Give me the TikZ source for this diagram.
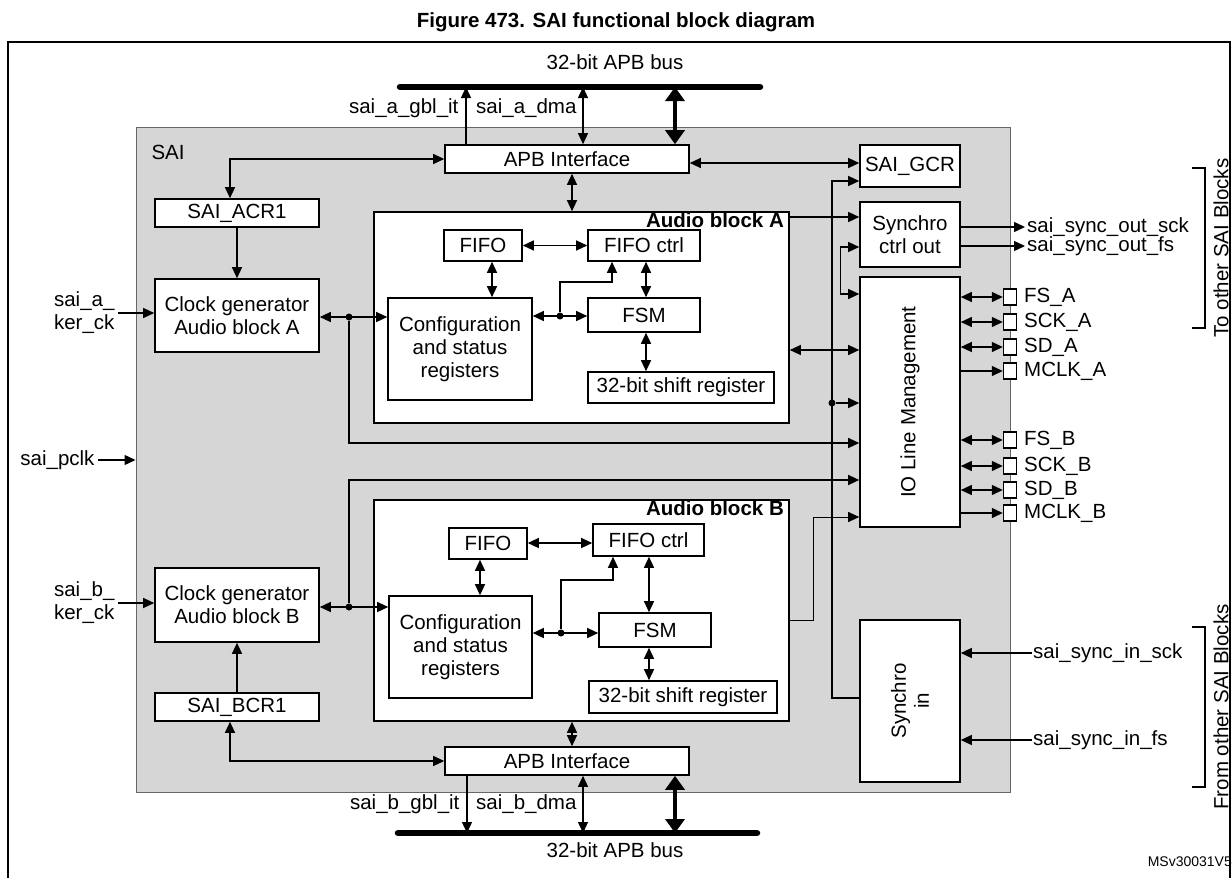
\documentclass[tikz,border=0pt]{standalone}
\usepackage{fontspec}
\setmainfont{Liberation Sans}
\usetikzlibrary{arrows.meta,calc}
\begin{document}
\begin{tikzpicture}[x=1pt,y=-1pt,
  font=\fontsize{20.5}{23}\selectfont,
  box/.style={draw,line width=1.6pt,fill=white,inner sep=0pt,align=center},
  ln/.style={line width=1.3pt},
  ar/.style={ln,-{Triangle[length=11pt,width=10pt]}},
  dar/.style={ln,{Triangle[length=11pt,width=10pt]}-{Triangle[length=11pt,width=10pt]}},
  thk/.style={line width=4.5pt,{Triangle[length=14pt,width=19pt]}-{Triangle[length=14pt,width=19pt]}},
  bus/.style={line width=6.5pt,line cap=round},
  pad/.style={draw,line width=1.4pt,fill=white,minimum width=13pt,minimum height=16pt,inner sep=0pt},
  dot/.style={circle,fill,inner sep=0pt,minimum size=7pt}]
\newcommand\bx[6]{\node[box,minimum width={#4-#2},minimum height={#5-#3}] (#1) at ({(#2+#4)/2},{(#3+#5)/2}) {#6};}
\useasboundingbox (0,0) rectangle (1232,878);
% title and frame
\node[font=\fontsize{20.5}{23}\selectfont\bfseries] (title) at (616,22) {Figure 473. SAI functional block diagram};
\draw[line width=2pt] (8,878) -- (8,42) -- (1230,42) -- (1230,878);
% SAI area
\node[draw=gray!80!black,line width=1pt,fill=black!16,minimum width=874pt,minimum height=665pt,inner sep=0pt] (sai) at (573,459.5) {};
\node[anchor=north west] (sailab) at (148,142) {SAI};
% buses
\coordinate (busAl) at (400,87); \coordinate (busAr) at (760,87);
\coordinate (busBl) at (398,833); \coordinate (busBr) at (757,833);
\draw[bus] (busAl) -- (busAr);
\draw[bus] (busBl) -- (busBr);
\node (busAlab) at (615,62) {32-bit APB bus};
\node (busBlab) at (615,850) {32-bit APB bus};
% boxes
\bx{apbA}{445}{145}{689}{173}{APB Interface}
\bx{apbB}{445}{747}{689}{775}{APB Interface}
\bx{blkA}{374}{212}{789}{423}{}
\bx{blkB}{374}{500}{789}{721}{}
\node[anchor=north east,font=\fontsize{20.5}{23}\selectfont\bfseries,inner sep=1pt] (blkAlab) at (785,211) {Audio block A};
\node[anchor=north east,font=\fontsize{20.5}{23}\selectfont\bfseries,inner sep=1pt] (blkBlab) at (785,499) {Audio block B};
\bx{fifoA}{444}{230}{522}{261}{FIFO}
\bx{fctlA}{588}{230}{700}{261}{FIFO ctrl}
\bx{cfgA}{388}{298}{532}{400}{Configuration\\and status\\registers}
\bx{fsmA}{588}{298}{700}{332}{FSM}
\bx{shA}{588}{372}{774}{403}{32-bit shift register}
\bx{fifoB}{449}{528}{527}{559}{FIFO}
\bx{fctlB}{593}{524}{704}{556}{FIFO ctrl}
\bx{cfgB}{389}{596}{532}{698}{Configuration\\and status\\registers}
\bx{fsmB}{599}{613}{711}{647}{FSM}
\bx{shB}{589}{681}{777}{713}{32-bit shift register}
\bx{acr1}{155}{199}{319}{227}{SAI\_ACR1}
\bx{cgA}{155}{279}{319}{352}{Clock generator\\Audio block A}
\bx{cgB}{155}{568}{319}{642}{Clock generator\\Audio block B}
\bx{bcr1}{155}{693}{319}{721}{SAI\_BCR1}
\bx{gcr}{860}{145}{960}{187}{SAI\_GCR}
\bx{syo}{860}{202}{960}{267}{Synchro\\ctrl out}
\bx{io}{860}{277}{960}{527}{}
\node[rotate=90] (iolab) at (io.center) {IO Line Management};
\bx{syi}{860}{620}{960}{782}{}
\node[rotate=90,align=center] (syilab) at (syi.center) {Synchro\\in};
% top bus connections
\draw[ar] (apbA.north -| 466,0) -- (busAl -| 466,0);
\node[anchor=east] (gblA) at (462,108) {sai\_a\_gbl\_it};
\draw[dar] (apbA.north -| 583,0) -- (busAl -| 583,0);
\node[anchor=east] (dmaA) at (580,108) {sai\_a\_dma};
\draw[thk] (apbA.north -| 675,0) -- (busAl -| 675,0);
% bottom bus connections
\draw[ar] (apbB.south -| 467,0) -- (busBl -| 467,0);
\node[anchor=east] (gblB) at (463,804) {sai\_b\_gbl\_it};
\draw[dar] (apbB.south -| 583,0) -- (busBl -| 583,0);
\node[anchor=east] (dmaB) at (580,804) {sai\_b\_dma};
\draw[thk] (apbB.south -| 675,0) -- (busBl -| 675,0);
% APB to blocks
\draw[dar] (apbA.south -| 572,0) -- (blkA.north -| 572,0);
\draw[dar] (apbB.north -| 572,0) -- (blkB.south -| 572,0);
\draw[dar] (acr1.north -| 230,0) |- (apbA.west);
\draw[dar] (bcr1.south -| 230,0) |- (apbB.west);
\draw[ar] (acr1) -- (cgA);
\draw[ar] (bcr1) -- (cgB);
\draw[dar] (apbA.east |- 0,163) -- (gcr.west |- 0,163);
% inputs left
\node[anchor=east,align=left] (kerA) at (118,313) {sai\_a\_\\ker\_ck};
\draw[ar] (kerA.east) -- (kerA.east -| cgA.west);
\node[anchor=east,align=left] (kerB) at (118,603) {sai\_b\_\\ker\_ck};
\draw[ar] (kerB.east) -- (kerB.east -| cgB.west);
\node[anchor=east] (pclk) at (98,460) {sai\_pclk};
\draw[ar] (pclk.east) -- (pclk.east -| sai.west);
% clock gen to config
\coordinate (dA) at (349,317);
\coordinate (dB) at (349,607);
\draw[dar] (cgA.east |- dA) -- (cfgA.west |- dA);
\draw[dar] (cgB.east |- dB) -- (cfgB.west |- dB);
\node[dot] (dotA) at (dA) {};
\node[dot] (dotB) at (dB) {};
\draw[ar] (dotA) |- (io.west |- 0,443);
\draw[ar] (dotB) |- (io.west |- 0,480);
% block A internal
\draw[dar] (fifoA) -- (fctlA);
\draw[dar] (fifoA.south -| 492,0) -- (cfgA.north -| 492,0);
\draw[dar] (fctlA.south -| 646,0) -- (fsmA.north -| 646,0);
\draw[dar] (fsmA.south -| 646,0) -- (shA.north -| 646,0);
\draw[dar] (cfgA.east |- 0,316) -- (fsmA.west |- 0,316);
\node[dot] (dA2) at (560,316) {};
\draw[ar] (dA2) |- (612,282) -- (fctlA.south -| 612,0);
% block B internal
\draw[dar] (fifoB.east |- 0,543) -- (fctlB.west |- 0,543);
\draw[dar] (fifoB.south -| 480,0) -- (cfgB.north -| 480,0);
\draw[dar] (fctlB.south -| 649,0) -- (fsmB.north -| 649,0);
\draw[dar] (fsmB.south -| 649,0) -- (shB.north -| 649,0);
\draw[dar] (cfgB.east |- 0,633) -- (fsmB.west |- 0,633);
\node[dot] (dB2) at (561,633) {};
\draw[ar] (dB2) |- (613,580) -- (fctlB.south -| 613,0);
% right side connections
\draw[ar] (blkA.east |- 0,217) -- (syo.west |- 0,217);
\draw[dar] (syo.west |- 0,247) -- ++(-19,0) |- (io.west |- 0,294);
\draw[dar] (blkA.east |- 0,350) -- (io.west |- 0,350);
\draw[ar,line width=1pt] (blkB.east |- 0,620) -| (813,517) -- (io.west |- 0,517);
\draw[ar] (syi.west |- 0,698) -| (832,181) -- (gcr.west |- 0,181);
\node[dot] (dIO) at (832,403) {};
\draw[ar] (dIO) -- (io.west |- dIO);
% sync out
\draw[ar] (syo.east |- 0,227) -- (1025,227);
\node[anchor=west,inner sep=1pt] (soA) at (1026,227) {sai\_sync\_out\_sck};
\draw[ar] (syo.east |- 0,246) -- (1025,246);
\node[anchor=west,inner sep=1pt] (soB) at (1026,246) {sai\_sync\_out\_fs};
% sync in
\node[anchor=west,inner sep=1pt] (siA) at (1032,653) {sai\_sync\_in\_sck};
\draw[ar] (siA.west) -- (syi.east |- siA.west);
\node[anchor=west,inner sep=1pt] (siB) at (1032,740) {sai\_sync\_in\_fs};
\draw[ar] (siB.west) -- (syi.east |- siB.west);
% pads
\foreach \n/\y/\t in {fsa/297/FS\_A,scka/322/SCK\_A,sda/347/SD\_A,mclka/371/MCLK\_A,fsb/440/FS\_B,sckb/466/SCK\_B,sdb/490/SD\_B,mclkb/513/MCLK\_B}{
  \node[pad] (\n) at (1010,\y) {};
  \node[anchor=west,inner sep=1pt] (\n lab) at (1023,\y) {\t};
}
\foreach \n in {fsa,scka,sda,fsb,sckb,sdb}{\draw[dar] (io.east |- \n.west) -- (\n.west);}
\foreach \n in {mclka,mclkb}{\draw[ar] (io.east |- \n.west) -- (\n.west);}
% brackets
\draw[line width=2.5pt] (1192,168) -- (1205,168) -- (1205,328) -- (1192,328);
\node[rotate=90] (toOther) at (1221,248) {To other SAI Blocks};
\draw[line width=2.5pt] (1192,627) -- (1205,627) -- (1205,787) -- (1192,787);
\node[rotate=90] (fromOther) at (1221,707) {From other SAI Blocks};
\node[anchor=east,font=\fontsize{14}{16}\selectfont,inner sep=0pt] (ms) at (1232,862) {MSv30031V5};
\end{tikzpicture}
\end{document}
